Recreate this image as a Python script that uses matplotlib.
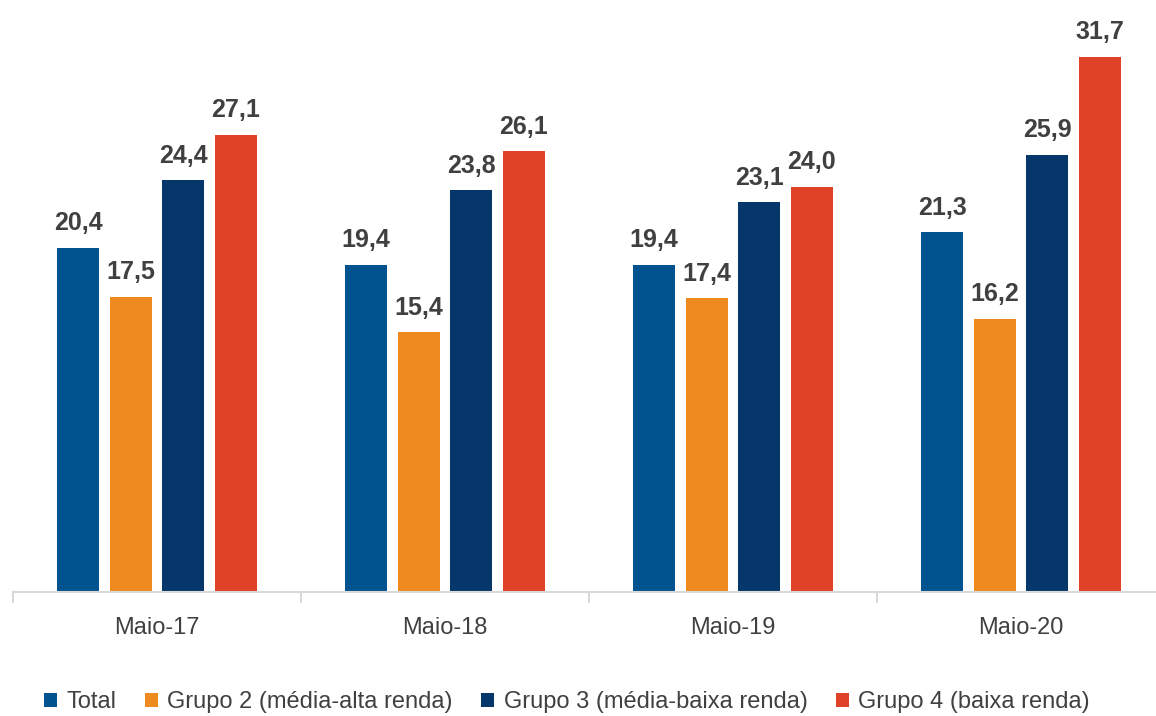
import matplotlib
matplotlib.use("Agg")
import matplotlib.pyplot as plt
from matplotlib.patches import Patch
from matplotlib import font_manager
import numpy as np

categories = ["Maio-17", "Maio-18", "Maio-19", "Maio-20"]
series_names = ["Total", "Grupo 2 (média-alta renda)", "Grupo 3 (média-baixa renda)", "Grupo 4 (baixa renda)"]
total = [20.4, 19.4, 19.4, 21.3]
grupo2 = [17.5, 15.4, 17.4, 16.2]
grupo3 = [24.4, 23.8, 23.1, 25.9]
grupo4 = [27.1, 26.1, 24.0, 31.7]
colors = ["#00538F", "#EE8A1F", "#06376B", "#E04227"]

names = {f.name for f in font_manager.fontManager.ttflist}
fam = [f for f in ["Liberation Sans Narrow", "Liberation Sans", "DejaVu Sans"] if f in names]
plt.rcParams["font.family"] = fam

fig = plt.figure(figsize=(11.56, 7.16), dpi=100)
W, H = 1156, 716
base_y = 592
ppu = 16.88
ymax = 34
ax = fig.add_axes([13 / W, (H - base_y) / H, 1152 / W, ymax * ppu / H])

x = np.arange(len(categories))
slot = 52.5 / 288
width = 42 / 288
data = [total, grupo2, grupo3, grupo4]
for i, (vals, c) in enumerate(zip(data, colors)):
    pos = x + (i - 1.5) * slot
    bars = ax.bar(pos, vals, width=width, color=c, zorder=2)
    for b, v in zip(bars, vals):
        ax.annotate(f"{v:.1f}".replace(".", ","), (b.get_x() + b.get_width() / 2, v),
                    xytext=(0, 9), textcoords="offset points", ha="center", va="bottom",
                    fontsize=18, fontweight="bold", color="#404040")

ax.set_xlim(-0.5, len(categories) - 0.5)
ax.set_ylim(0, ymax)
ax.set_yticks([])
for s in ["top", "right", "left"]:
    ax.spines[s].set_visible(False)
ax.spines["bottom"].set_color("#D9D9D9")
ax.spines["bottom"].set_linewidth(1.5)
ax.set_xticks(x)
ax.set_xticklabels(categories, fontsize=17, color="#404040")
ax.tick_params(axis="x", length=0, pad=18)
ax.set_xticks(np.arange(len(categories) + 1) - 0.5, minor=True)
ax.tick_params(axis="x", which="minor", length=8, width=1.5, color="#D9D9D9")

handles = [Patch(facecolor=c, edgecolor="none") for c in colors]
fig.legend(handles, series_names, loc="center", bbox_to_anchor=(567 / W, 1 - 702 / H), ncol=4,
           frameon=False, fontsize=17, handlelength=0.55, handleheight=0.55,
           handletextpad=0.4, columnspacing=1.2, labelcolor="#404040")

fig.savefig("out.png", dpi=100)
